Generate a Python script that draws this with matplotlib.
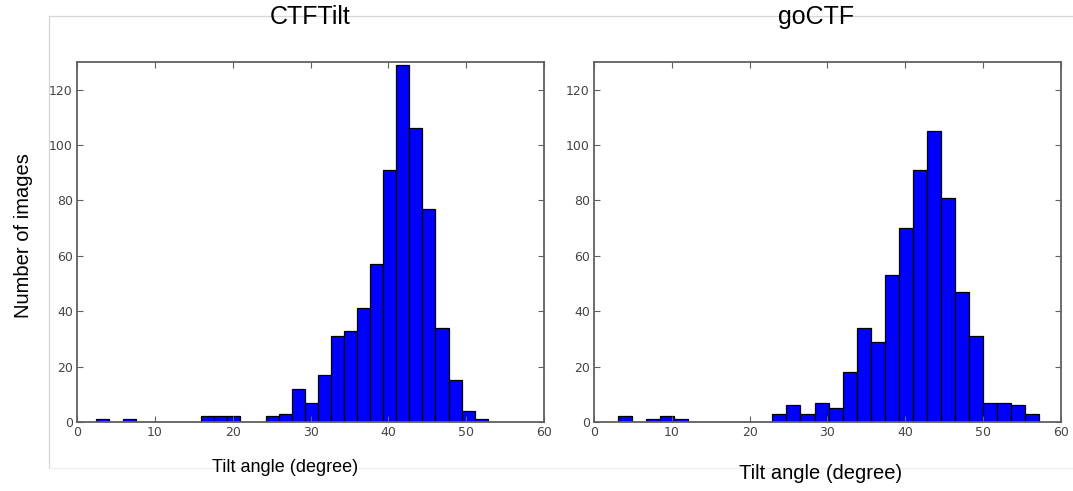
"""
plot.py — tilt-angle histograms, CTFTilt vs goCTF.  Writes out.png.
"""

import numpy as np
import matplotlib
matplotlib.use("Agg")
import matplotlib.pyplot as plt
from matplotlib.lines import Line2D

# CTFTilt: 30 bins between the min and max tilt angle
ctftilt_lo, ctftilt_hi = 2.49, 52.76
ctftilt_counts = [1, 0, 1, 0, 0, 0, 0, 0, 2, 2,
                  2, 0, 0, 2, 3, 12, 7, 17, 31, 33,
                  41, 57, 91, 129, 106, 77, 34, 15, 4, 1]

# goCTF: 30 bins
goctf_lo, goctf_hi = 3.13, 57.13
goctf_counts = [2, 0, 1, 2, 1, 0, 0, 0, 0, 0,
                0, 3, 6, 3, 7, 5, 18, 34, 29, 53,
                70, 91, 105, 81, 47, 31, 7, 7, 6, 3]

x_ticks = [0, 10, 20, 30, 40, 50, 60]
y_ticks = [0, 20, 40, 60, 80, 100, 120]

LABEL_FONT = "Liberation Sans"
TICK_COLOR = "#444444"
SPINE_COLOR = "#606060"


def draw_hist(ax, lo, hi, counts):
    edges = np.linspace(lo, hi, len(counts) + 1)
    ax.hist(edges[:-1], bins=edges, weights=counts,
            color="#0000ff", edgecolor="black", linewidth=0.9)
    ax.set_xlim(0, 60)
    ax.set_ylim(0, 130)
    ax.set_xticks(x_ticks)
    ax.set_yticks(y_ticks)
    ax.tick_params(direction="in", length=4, width=0.8, color=SPINE_COLOR,
                   top=True, right=True, labelsize=9, labelcolor=TICK_COLOR,
                   pad=3)
    for sp in ax.spines.values():
        sp.set_color(SPINE_COLOR)
        sp.set_linewidth(1.3)


fig = plt.figure(figsize=(10.73, 4.91), dpi=100)

ax1 = fig.add_axes([0.0718, 0.1405, 0.4352, 0.7332])
ax2 = fig.add_axes([0.5536, 0.1405, 0.4352, 0.7332])

draw_hist(ax1, ctftilt_lo, ctftilt_hi, ctftilt_counts)
draw_hist(ax2, goctf_lo, goctf_hi, goctf_counts)

# faint frame around the figure (pasted-image border)
frame = dict(color="#d6d6d6", lw=0.9, transform=fig.transFigure, zorder=0)
fig.add_artist(Line2D([0.0457, 1.0], [0.9674, 0.9674], **frame))
fig.add_artist(Line2D([0.0457, 0.0457], [0.9674, 0.0468], **frame))
fig.add_artist(Line2D([0.0457, 1.0], [0.0468, 0.0468],
                      color="#efefef", lw=0.9, transform=fig.transFigure,
                      zorder=0))

# titles and axis labels
fig.text(0.289, 0.965, "CTFTilt", ha="center", va="center",
         fontsize=18, family=LABEL_FONT, zorder=5)
fig.text(0.761, 0.965, "goCTF", ha="center", va="center",
         fontsize=18, family=LABEL_FONT, zorder=5)
fig.text(0.266, 0.048, "Tilt angle (degree)", ha="center", va="center",
         fontsize=13, family=LABEL_FONT)
fig.text(0.765, 0.036, "Tilt angle (degree)", ha="center", va="center",
         fontsize=14.5, family=LABEL_FONT)
fig.text(0.022, 0.521, "Number of images", ha="center", va="center",
         rotation=90, fontsize=14.5, family=LABEL_FONT)

fig.savefig("out.png", dpi=100)
print("wrote out.png")
